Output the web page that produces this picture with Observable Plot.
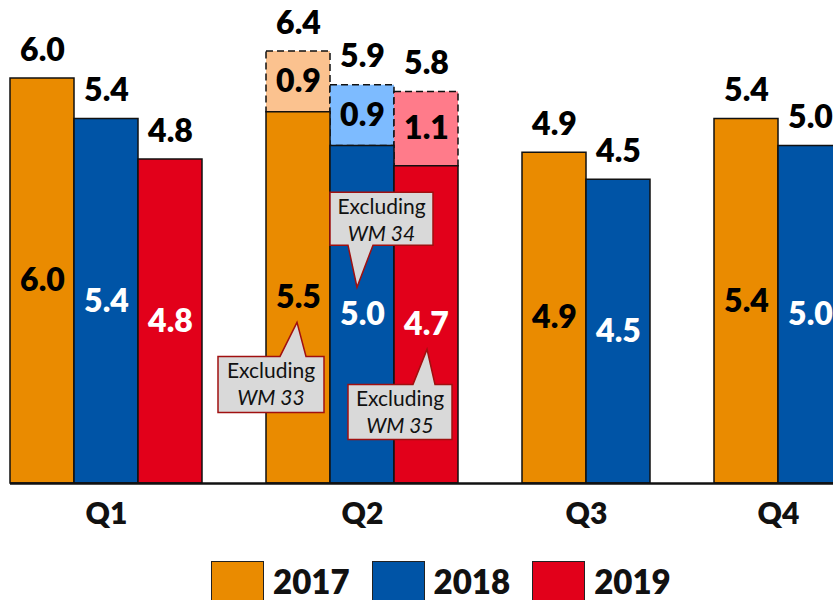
<!DOCTYPE html>
<html><head><meta charset="utf-8">
<script src="https://cdn.jsdelivr.net/npm/d3@7"></script>
<script src="https://cdn.jsdelivr.net/npm/@observablehq/plot@0.6"></script>
<style>
body{margin:0;background:#fff;overflow:hidden;font-family:Lato,"Open Sans",sans-serif}
#legend{display:flex;align-items:center;margin-left:211px;margin-top:16px;height:40px}
.sw{width:53px;height:40px;border:1.5px solid #222;box-sizing:border-box}
.lab{font-weight:800;font-size:33px;margin-left:9px;margin-right:22px;color:#111;line-height:40px}
</style></head><body><div id="chart"></div><div id="legend"></div>
<script>
const quarters = ["Q1", "Q2", "Q3", "Q4"];
const years = ["2017", "2018", "2019"];
const base2017 = [6.0, 5.5, 4.9, 5.4];
const base2018 = [5.4, 5.0, 4.5, 5.0];
const base2019 = [4.8, 4.7, null, null];
const extra2017 = [null, 0.9, null, null];
const extra2018 = [null, 0.9, null, null];
const extra2019 = [null, 1.1, null, null];
const calloutQuarter = "Q2";
const excludedLabels = ["WM 33", "WM 34", "WM 35"];
const calloutWord = "Excluding";

const colors = ["#EA8B00", "#0054A6", "#E2001A"];
const lightColors = ["#FBC28F", "#7DBBFF", "#FF7B8A"];
const innerTextColors = ["#000", "#fff", "#fff"];

const bases = [base2017, base2018, base2019];
const extras = [extra2017, extra2018, extra2019];

// build slot layout: bars of a quarter side by side, one empty slot between quarters
const rows = [];
const groups = [];
let slot = 0;
quarters.forEach((q, qi) => {
  const start = slot;
  years.forEach((yr, yi) => {
    const b = bases[yi][qi];
    if (b == null) return;
    const e = extras[yi][qi];
    rows.push({quarter: q, year: yr, yi, base: b, extra: e, total: +(b + (e || 0)).toFixed(1), x1: slot, x2: slot + 1});
    slot++;
  });
  groups.push({quarter: q, center: (start + slot) / 2});
  slot++;
});
const extRows = rows.filter(d => d.extra != null);

// callout layout (pixel offsets relative to the bar's inner label)
const calloutLayout = {
  "2017": {side: "below", tip: [-1, 25], box: [-80, 26, 59, 115], base: [-18, 8]},
  "2018": {side: "above", tip: [-5, -27], box: [-32, 71, -122, -69], base: [-14, 11]},
  "2019": {side: "below", tip: [1, 25], box: [-78, 26, 60, 115], base: [-13, 9]}
};

function calloutMark(index, scales) {
  const g = d3.create("svg:g");
  years.forEach((yr, i) => {
    const r = rows.find(d => d.quarter === calloutQuarter && d.year === yr);
    if (!r) return;
    const L = calloutLayout[yr];
    const cx = scales.x(r.x1 + 0.5);
    const cy = scales.y(r.base / 2);
    const [l, rr, t, b] = [cx + L.box[0], cx + L.box[1], cy + L.box[2], cy + L.box[3]];
    const tx = cx + L.tip[0], ty = cy + L.tip[1];
    const p0 = cx + L.base[0], p1 = cx + L.base[1];
    let d;
    if (L.side === "below") {
      d = `M${l},${t}L${p0},${t}L${tx},${ty}L${p1},${t}L${rr},${t}L${rr},${b}L${l},${b}Z`;
    } else {
      d = `M${l},${t}L${rr},${t}L${rr},${b}L${p1},${b}L${tx},${ty}L${p0},${b}L${l},${b}Z`;
    }
    g.append("path").attr("d", d).attr("fill", "#D9D9D9").attr("stroke", "#A01010").attr("stroke-width", 1.5);
    const mx = (l + rr) / 2;
    g.append("text").attr("x", mx).attr("y", t + 14).attr("dy", "0.35em").attr("text-anchor", "middle")
      .attr("font-size", 21).attr("font-family", "Lato, sans-serif").attr("fill", "#111").text(calloutWord);
    g.append("text").attr("x", mx).attr("y", t + 41).attr("dy", "0.35em").attr("text-anchor", "middle")
      .attr("font-size", 21).attr("font-style", "italic").attr("font-family", "Lato, sans-serif").attr("fill", "#111").text(excludedLabels[i]);
  });
  return g.node();
}

const chart = Plot.plot({
  width: 833, height: 545,
  marginLeft: 10, marginRight: 0, marginTop: 0, marginBottom: 62,
  x: {domain: [0, 823 / 64], axis: null},
  y: {domain: [0, 483 / 67.5], axis: null},
  color: {type: "identity"},
  style: {fontFamily: "Lato, sans-serif", background: "#fff", overflow: "hidden"},
  marks: [
    Plot.rect(extRows, {x1: "x1", x2: "x2", y1: "base", y2: "total", fill: d => lightColors[d.yi], stroke: "#111", strokeWidth: 1.5, strokeDasharray: "7,4"}),
    Plot.rect(rows, {x1: "x1", x2: "x2", y1: 0, y2: "base", fill: d => colors[d.yi], stroke: "#111", strokeWidth: 1.5}),
    Plot.ruleY([0], {stroke: "#111", strokeWidth: 2.5}),
    Plot.text(rows, {x: d => d.x1 + 0.5, y: d => d.base / 2, text: d => d.base.toFixed(1), fill: d => innerTextColors[d.yi], fontSize: 32, fontWeight: 800}),
    Plot.text(extRows, {x: d => d.x1 + 0.5, y: d => d.base + d.extra / 2, text: d => d.extra.toFixed(1), fill: "#000", fontSize: 32, fontWeight: 800}),
    Plot.text(rows, {x: d => d.x1 + 0.5, y: "total", text: d => d.total.toFixed(1), fill: "#000", fontSize: 32, fontWeight: 800, lineAnchor: "bottom", dy: -18}),
    Plot.text(groups, {x: "center", text: "quarter", frameAnchor: "bottom", dy: 40, fill: "#111", fontSize: 30, fontWeight: 800}),
    calloutMark
  ]
});
document.getElementById("chart").appendChild(chart);

const legend = document.getElementById("legend");
years.forEach((yr, i) => {
  const sw = document.createElement("div");
  sw.className = "sw"; sw.style.background = colors[i];
  const lb = document.createElement("div");
  lb.className = "lab"; lb.textContent = yr;
  legend.appendChild(sw); legend.appendChild(lb);
});
</script></body></html>
